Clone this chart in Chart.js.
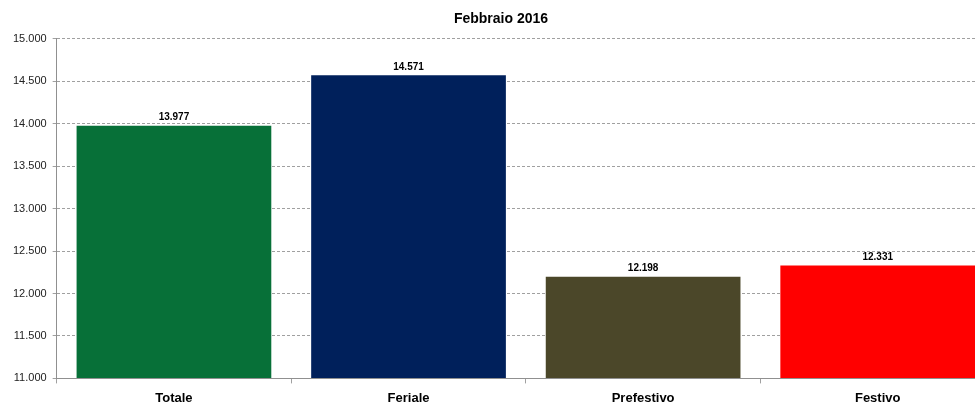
<!DOCTYPE html>
<html lang="it">
<head>
<meta charset="UTF-8" />
<title>Febbraio 2016</title>
<style>
  html, body { margin: 0; padding: 0; background: #fff; overflow: hidden; }
  .wrap { width: 995px; height: 413px; }
</style>
</head>
<body>
  <div class="wrap"><canvas id="chart"></canvas></div>

  <script src="https://cdn.jsdelivr.net/npm/chart.js"></script>
  <script>
    // dati
    const categorie = ['Totale', 'Feriale', 'Prefestivo', 'Festivo'];
    const valori = [13977, 14571, 12198, 12331];
    const colori = ['#077038', '#00205b', '#4b4729', '#ff0000'];
    const yMin = 11000, yMax = 15000, yStep = 500;

    // 13977 -> "13.977"
    function fmt(n) {
      return String(Math.round(n)).replace(/\B(?=(\d{3})+(?!\d))/g, '.');
    }

    // etichette sopra le barre
    const etichette = {
      id: 'etichette',
      afterDatasetsDraw(chart) {
        const ctx = chart.ctx;
        const meta = chart.getDatasetMeta(0);
        ctx.save();
        ctx.font = 'bold 10px "Liberation Sans", Arial, sans-serif';
        ctx.fillStyle = '#000';
        ctx.textAlign = 'center';
        ctx.textBaseline = 'bottom';
        meta.data.forEach((bar, i) => {
          ctx.fillText(fmt(valori[i]), bar.x, bar.y - 3);
        });
        ctx.restore();
      }
    };

    new Chart(document.getElementById('chart'), {
      type: 'bar',
      data: {
        labels: categorie,
        datasets: [{
          data: valori,
          backgroundColor: colori,
          categoryPercentage: 1,
          barPercentage: 0.83,
          base: yMin
        }]
      },
      options: {
        responsive: true,
        maintainAspectRatio: false,
        animation: false,
        layout: { padding: { top: 4, right: 0, left: 7, bottom: 0 } },
        plugins: {
          legend: { display: false },
          tooltip: { enabled: false },
          title: {
            display: true,
            text: 'Febbraio 2016',
            color: '#000',
            font: { family: '"Liberation Sans", Arial, sans-serif', size: 14, weight: 'bold' },
            padding: { top: 7, bottom: 11 }
          }
        },
        scales: {
          x: {
            grid: {
              offset: true,
              drawOnChartArea: false,
              drawTicks: true,
              tickLength: 5,
              color: '#a0a0a0'
            },
            border: { color: '#909090' },
            ticks: {
              color: '#000',
              padding: 7,
              font: { family: '"Liberation Sans", Arial, sans-serif', size: 13, weight: 'bold' }
            }
          },
          y: {
            min: yMin,
            max: yMax,
            ticks: {
              stepSize: yStep,
              color: '#222',
              padding: 6,
              font: { family: '"Liberation Sans", Arial, sans-serif', size: 11 },
              callback: v => fmt(v)
            },
            grid: {
              color: '#a0a0a0',
              tickLength: 4,
              lineWidth: 1
            },
            border: { color: '#909090', dash: [3, 2] }
          }
        }
      },
      plugins: [etichette]
    });
  </script>
</body>
</html>
